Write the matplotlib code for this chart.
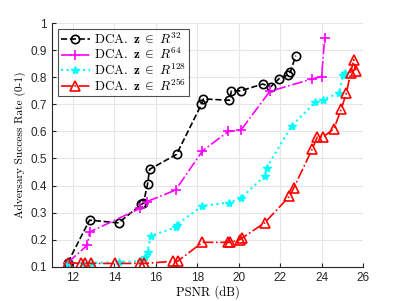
import matplotlib
matplotlib.use("Agg")
import matplotlib.pyplot as plt

plt.rcParams['mathtext.fontset'] = 'cm'
plt.rcParams['font.family'] = ['Liberation Sans', 'DejaVu Sans']

# Data
x32 = [11.75, 12.8, 14.2, 15.3, 15.4, 15.6, 15.7, 17.0, 18.2, 18.3, 19.55, 19.65, 20.1,
       21.15, 21.55, 21.95, 22.4, 22.5, 22.75]
y32 = [0.115, 0.272, 0.262, 0.33, 0.335, 0.405, 0.46, 0.515, 0.70, 0.72, 0.715, 0.75, 0.75,
       0.775, 0.765, 0.795, 0.81, 0.82, 0.88]

x64 = [11.75, 12.7, 12.8, 15.25, 15.55, 16.95, 18.25, 19.5, 20.1, 21.5, 23.55, 24.0, 24.15]
y64 = [0.115, 0.18, 0.228, 0.316, 0.34, 0.383, 0.528, 0.60, 0.604, 0.748, 0.794, 0.802, 0.946]

x128 = [11.75, 12.5, 12.9, 14.2, 15.3, 15.5, 15.6, 15.75, 16.95, 17.0, 18.25, 19.55, 20.1,
        21.25, 21.35, 22.55, 23.7, 24.05, 24.85, 25.05, 25.15]
y128 = [0.115, 0.113, 0.113, 0.118, 0.12, 0.137, 0.155, 0.214, 0.245, 0.255, 0.325, 0.337, 0.353,
        0.435, 0.466, 0.62, 0.708, 0.717, 0.742, 0.81, 0.815]

x256 = [11.75, 12.4, 12.6, 12.85, 14.05, 15.25, 15.45, 16.85, 17.05, 18.25, 19.5, 19.6, 20.05,
        20.15, 21.25, 22.45, 22.65, 23.55, 23.8, 24.05, 24.6, 24.95, 25.2, 25.4, 25.55, 25.65]
y256 = [0.115, 0.112, 0.112, 0.112, 0.112, 0.112, 0.112, 0.12, 0.12, 0.19, 0.19, 0.19, 0.20,
        0.205, 0.262, 0.36, 0.39, 0.535, 0.58, 0.578, 0.61, 0.683, 0.742, 0.815, 0.865, 0.825]

labels = [r'$\mathrm{DCA.}\ \mathbf{z} \;\in\; R^{32}$',
          r'$\mathrm{DCA.}\ \mathbf{z} \;\in\; R^{64}$',
          r'$\mathrm{DCA.}\ \mathbf{z} \;\in\; R^{128}$',
          r'$\mathrm{DCA.}\ \mathbf{z} \;\in\; R^{256}$']

xticks = [12, 14, 16, 18, 20, 22, 24, 26]
yticks = [0.1, 0.2, 0.3, 0.4, 0.5, 0.6, 0.7, 0.8, 0.9, 1.0]
yticklabels = ['0.1', '0.2', '0.3', '0.4', '0.5', '0.6', '0.7', '0.8', '0.9', '1']

fig = plt.figure(figsize=(4.02, 3.01), dpi=100)
ax = fig.add_axes([0.13, 0.114, 0.773, 0.809])

lw = 1.2
ax.plot(x32, y32, '--', color='black', marker='o', mfc='none', ms=6, mew=1.2, lw=lw, label=labels[0])
ax.plot(x64, y64, '-.', color='#FF00FF', marker='+', ms=7, mew=1.2, lw=lw, label=labels[1])
ax.plot(x128, y128, ':', color='#00FFFF', marker='*', ms=6, mew=1.0, lw=lw + 0.3, label=labels[2])
ax.plot(x256, y256, '-.', color='#FF0000', marker='^', mfc='none', ms=7, mew=1.2, lw=lw, label=labels[3])

ax.set_xlim(11, 26)
ax.set_ylim(0.1, 1.0)
ax.set_xticks(xticks)
ax.set_yticks(yticks)
ax.set_yticklabels(yticklabels)
ax.grid(True, color='#e6e6e6', lw=0.8)
ax.set_axisbelow(True)
for s in ['top', 'right']:
    ax.spines[s].set_visible(False)
for s in ['left', 'bottom']:
    ax.spines[s].set_color('#262626')
    ax.spines[s].set_linewidth(0.8)
ax.tick_params(direction='in', length=3, width=0.8, color='#262626', labelsize=8.5, labelcolor='#262626', pad=4)

ax.set_xlabel('PSNR (dB)', family='cmr10', fontsize=9, labelpad=1)
ax.set_ylabel('Adversary Success Rate (0-1)', family='cmr10', fontsize=8.2, labelpad=3)

leg = ax.legend(loc='upper left', fontsize=9.5, frameon=True, fancybox=False, edgecolor='#262626',
                borderpad=0.2, labelspacing=0.0, handlelength=2.2, handletextpad=0.3,
                borderaxespad=0.45)
leg.get_frame().set_linewidth(0.8)

fig.savefig('out.png', dpi=100)
